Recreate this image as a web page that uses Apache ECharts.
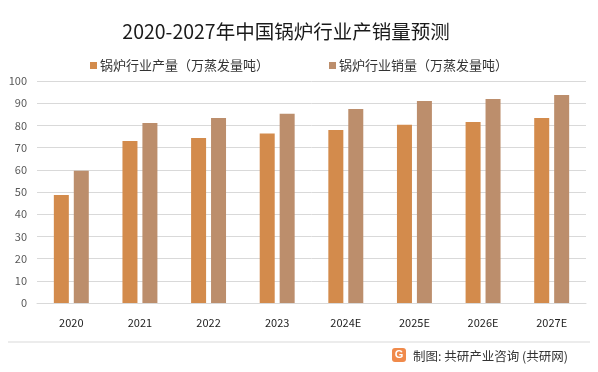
<!DOCTYPE html>
<html>
<head>
<meta charset="utf-8">
<script src="https://cdn.jsdelivr.net/npm/echarts@6/dist/echarts.min.js"></script>
<style>html,body{margin:0;padding:0;background:#fff}#c{width:598px;height:372px}</style>
</head>
<body>
<div id="c"></div>
<script>
var categories = ['2020','2021','2022','2023','2024E','2025E','2026E','2027E'];
var production = [48.6, 73.0, 74.3, 76.3, 77.9, 80.3, 81.5, 83.3];
var sales = [59.6, 81.1, 83.3, 85.3, 87.4, 91.0, 91.9, 93.7];
var seriesNames = ['锅炉行业产量（万蒸发量吨）', '锅炉行业销量（万蒸发量吨）'];
var yTicks = [0, 100, 10];

var chart = echarts.init(document.getElementById('c'), null, {renderer: 'canvas'});
var font = '"Microsoft YaHei","Noto Sans CJK SC",sans-serif';
chart.setOption({
  backgroundColor: '#fff',
  animation: false,
  title: {
    text: '2020-2027年中国锅炉行业产销量预测',
    left: 281, top: 17, textAlign: 'center',
    textStyle: {fontSize: 19.5, fontWeight: 'normal', color: '#1a1a1a', fontFamily: font}
  },
  legend: {
    top: 54, left: 85, itemGap: 60, itemWidth: 7, itemHeight: 7, icon: 'rect',
    textStyle: {fontSize: 13, color: '#333', fontFamily: font, padding: [0,0,0,-2]},
    data: seriesNames
  },
  grid: {left: 37, right: 12, top: 81, bottom: 69, containLabel: false},
  xAxis: {
    type: 'category', data: categories,
    axisLine: {lineStyle: {color: '#d9d9d9'}},
    axisTick: {show: false},
    axisLabel: {fontSize: 11, color: '#222', margin: 14, fontFamily: font}
  },
  yAxis: {
    type: 'value', min: yTicks[0], max: yTicks[1], interval: yTicks[2],
    axisLine: {show: false}, axisTick: {show: false},
    splitLine: {lineStyle: {color: '#d9d9d9'}},
    axisLabel: {fontSize: 11, color: '#595959', margin: 10, fontFamily: font}
  },
  series: [
    {name: seriesNames[0], type: 'bar', data: production, barWidth: 15, barGap: '33%',
     itemStyle: {color: '#D38B4C'}},
    {name: seriesNames[1], type: 'bar', data: sales, barWidth: 15,
     itemStyle: {color: '#BC8E6C'}}
  ],
  graphic: [
    {type: 'line', shape: {x1: 8, y1: 342, x2: 590, y2: 342}, style: {stroke: '#d9d9d9', lineWidth: 1}},
    {type: 'rect', shape: {x: 392, y: 348, width: 14, height: 14, r: 3}, style: {fill: '#F08A4B'}},
    {type: 'text', style: {x: 399, y: 355, text: 'G', fill: '#fff', font: 'bold 11px sans-serif', align: 'center', verticalAlign: 'middle'}},
    {type: 'text', style: {x: 413, y: 356, text: '制图: 共研产业咨询 (共研网)', fill: '#333', font: '12.5px ' + font, verticalAlign: 'middle'}}
  ]
});
</script>
</body>
</html>
